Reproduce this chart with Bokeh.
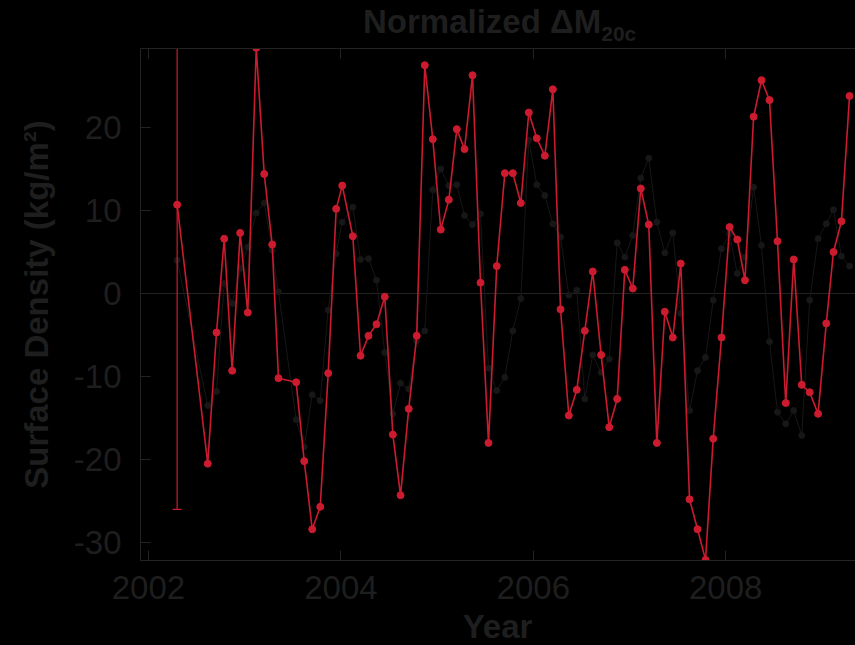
from bokeh.plotting import figure
from bokeh.models import Range1d, LinearAxis, FixedTicker, Span, ColumnDataSource, Div
from bokeh.layouts import column
from bokeh.embed import file_html
from bokeh.resources import INLINE

# ---- data ----
years = [2002.298, 2002.616, 2002.707, 2002.787, 2002.870, 2002.953, 2003.032, 2003.120,
         2003.203, 2003.286, 2003.351, 2003.535, 2003.619, 2003.702, 2003.785, 2003.868,
         2003.951, 2004.014, 2004.124, 2004.204, 2004.287, 2004.370, 2004.456, 2004.540,
         2004.620, 2004.705, 2004.788, 2004.872, 2004.955, 2005.038, 2005.122, 2005.205,
         2005.285, 2005.368, 2005.451, 2005.534, 2005.620, 2005.704, 2005.787, 2005.870,
         2005.953, 2006.036, 2006.120, 2006.203, 2006.283, 2006.369, 2006.452, 2006.535,
         2006.618, 2006.705, 2006.789, 2006.872, 2006.951, 2007.034, 2007.117, 2007.200,
         2007.284, 2007.367, 2007.450, 2007.533, 2007.624, 2007.707, 2007.790, 2007.870,
         2007.956, 2008.040, 2008.120, 2008.200, 2008.290, 2008.372, 2008.455, 2008.538,
         2008.624, 2008.707, 2008.790, 2008.873, 2008.960, 2009.045, 2009.120, 2009.203,
         2009.287]

red_values = [10.7, -20.5, -4.7, 6.6, -9.3, 7.3, -2.3, 29.6,
              14.4, 5.9, -10.2, -10.7, -20.2, -28.4, -25.7, -9.6,
              10.2, 13.0, 6.9, -7.5, -5.1, -3.7, -0.4, -17.0,
              -24.3, -13.9, -5.1, 27.5, 18.6, 7.7, 11.3, 19.8,
              17.4, 26.3, 1.3, -18.0, 3.3, 14.5, 14.5, 10.9,
              21.8, 18.7, 16.6, 24.6, -1.9, -14.7, -11.6, -4.5,
              2.65, -7.4, -16.1, -12.7, 2.85, 0.6, 12.65, 8.3,
              -18.0, -2.2, -5.3, 3.6, -24.8, -28.4, -32.1, -17.5,
              -5.3, 8.0, 6.5, 1.6, 21.3, 25.7, 23.3, 6.3,
              -13.2, 4.1, -11.0, -11.9, -14.5, -3.6, 5.0, 8.7,
              23.8]

black_values = [4.0, -13.5, -11.8, 1.2, -1.2, 3.0, 5.6, 9.7,
                10.9, 5.2, 0.2, -15.2, -18.5, -12.2, -12.9, -2.0,
                4.8, 8.6, 10.4, 4.1, 4.2, 1.6, -7.1, -14.5,
                -10.8, -11.5, -5.7, -4.5, 12.5, 15.0, 13.0, 13.1,
                9.4, 8.3, 9.6, -9.0, -11.7, -10.1, -4.5, -0.6,
                18.5, 13.1, 11.8, 8.4, 6.8, -0.2, 0.4, -12.7,
                -7.4, -9.5, -7.9, 6.1, 4.4, 7.0, 13.9, 16.3,
                8.6, 4.9, 7.3, -2.4, -14.1, -9.3, -7.7, -0.8,
                5.4, 7.2, 2.4, 4.4, 12.8, 5.8, -5.8, -14.3,
                -15.7, -14.1, -17.1, -0.8, 6.6, 8.4, 10.1, 4.5,
                3.3]

err_year = [2002.298]
err_low = [-26.0]
err_high = [47.4]

x_ticks = [2002, 2004, 2006, 2008]
y_ticks = [-30, -20, -10, 0, 10, 20]

title_main = "Normalized \u0394M"
title_sub = "20c"
x_label = "Year"
y_label = "Surface Density (kg/m\u00b2)"

# ---- styles ----
FONT = "Liberation Sans"
TEXT = "#1e1e1e"
LINE = "#232323"
RED = "#cc1b2f"
DARK = "#171717"

p = figure(width=855, height=562,
           x_range=Range1d(2001.917, 2009.349), y_range=Range1d(-32.17, 29.52),
           output_backend="svg", toolbar_location=None,
           min_border_left=140, min_border_right=0, min_border_top=0, min_border_bottom=50,
           background_fill_color="black", border_fill_color="black", outline_line_color=None,
           margin=0)
p.grid.visible = False

for ax in (p.xaxis[0], p.yaxis[0]):
    ax.major_tick_in = 10
    ax.major_tick_out = 0
    ax.minor_tick_line_color = None
    ax.axis_line_color = LINE
    ax.major_tick_line_color = LINE
    ax.major_label_text_font = FONT
    ax.major_label_text_font_size = "33px"
    ax.major_label_text_color = TEXT

p.xaxis.ticker = FixedTicker(ticks=x_ticks)
p.xaxis.major_label_standoff = 15
p.yaxis.ticker = FixedTicker(ticks=y_ticks)
p.yaxis.major_label_overrides = {t: str(t) for t in y_ticks}
p.yaxis.major_label_standoff = 19
p.yaxis.axis_label = y_label
p.yaxis.axis_label_text_font = FONT
p.yaxis.axis_label_text_font_size = "33px"
p.yaxis.axis_label_text_font_style = "bold"
p.yaxis.axis_label_text_color = TEXT
p.yaxis.axis_label_standoff = 16

top_axis = LinearAxis(ticker=FixedTicker(ticks=x_ticks), major_label_text_font_size="0px",
                      major_label_standoff=0,
                      major_tick_in=10, major_tick_out=0, minor_tick_line_color=None,
                      axis_line_color=LINE, major_tick_line_color=LINE,
                      major_label_text_color=None)
p.add_layout(top_axis, "above")

zero = Span(location=0, dimension="width", line_color=LINE, line_width=1, level="underlay")
p.add_layout(zero)

src = ColumnDataSource(dict(year=years, red=red_values, black=black_values))

p.line("year", "black", source=src, line_color=DARK, line_width=1)
p.scatter("year", "black", source=src, size=6, fill_color=DARK, line_color=DARK)

p.segment(x0=err_year, y0=err_low, x1=err_year, y1=err_high, line_color=RED, line_width=1.2)
p.scatter(x=err_year, y=err_low, marker="dash", size=9, line_color=RED, line_width=1.2)

p.line("year", "red", source=src, line_color=RED, line_width=1.6)
p.scatter("year", "red", source=src, size=7, fill_color=RED, line_color=RED)

title_div = Div(
    text=(f'<div style="font-family:\'{FONT}\';font-size:33px;font-weight:bold;color:{TEXT};'
          f'line-height:33px;padding-top:5px;padding-left:363px;white-space:nowrap;">'
          f'{title_main}<span style="font-size:21px;position:relative;top:8px;">{title_sub}</span></div>'),
    width=855, height=48, margin=0)

year_div = Div(
    text=(f'<div style="box-sizing:border-box;font-family:\'{FONT}\';font-size:33px;font-weight:bold;'
          f'color:{TEXT};line-height:33px;padding-left:140px;width:855px;text-align:center;'
          f'white-space:nowrap;">{x_label}</div>'),
    width=855, height=35, margin=0)

layout = column(title_div, p, year_div, spacing=0)

html = file_html(layout, INLINE)
html = html.replace("</head>", "<style>html, body { background-color: #000000; }</style></head>", 1)
open("out.html", "w").write(html)
